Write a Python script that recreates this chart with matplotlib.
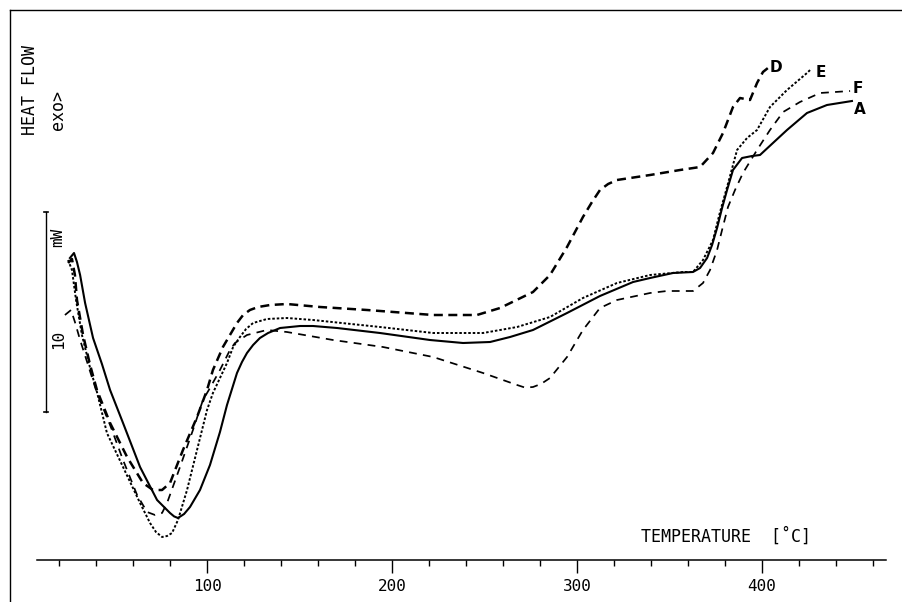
import matplotlib
matplotlib.use("Agg")
import matplotlib.pyplot as plt
from matplotlib.lines import Line2D

# ---- data (temperature in deg C, heat flow in mW, arbitrary zero) ----
A_T = [25.9, 28.1, 29.7, 31.4, 34.1, 38.4, 43.2, 47.6, 54.6, 63.8, 73.0, 80.0, 82.2,
       84.3, 87.6, 90.8, 96.2, 101.6, 107.0, 110.8, 116.2, 118.9, 121.6, 124.9, 128.6,
       133.0, 139.5, 150.3, 157.3, 170.3, 193.5, 220.5, 238.4, 253.0, 263.8, 276.2,
       294.6, 312.4, 330.3, 339.5, 351.9, 362.7, 366.5, 370.3, 373.0, 375.7, 378.4,
       381.1, 384.3, 389.2, 394.6, 398.9, 405.9, 413.5, 424.3, 435.1, 448.6]
A_HF = [15.1, 15.35, 14.9, 14.25, 12.85, 11.1, 9.8, 8.5, 6.85, 4.65, 3.0, 2.35, 2.18,
        2.1, 2.3, 2.65, 3.5, 4.75, 6.4, 7.75, 9.35, 9.9, 10.35, 10.75, 11.1,
        11.35, 11.6, 11.7, 11.7, 11.6, 11.35, 11.0, 10.85, 10.9, 11.15, 11.5,
        12.35, 13.2, 13.9, 14.1, 14.35, 14.4, 14.6, 15.1, 15.75, 16.6, 17.6,
        18.5, 19.5, 20.1, 20.2, 20.25, 20.85, 21.5, 22.35, 22.75, 22.95]

D_T = [24.9, 27.0, 28.6, 29.7, 33.0, 36.8, 40.5, 47.6, 56.8, 65.4, 70.8, 75.7, 80.0,
       87.0, 94.6, 100.0, 103.2, 108.6, 116.2, 119.5, 123.2, 127.6, 134.1, 143.2, 161.1,
       186.5, 222.2, 245.9, 258.4, 276.2, 285.4, 294.6, 303.2, 308.1, 312.4, 316.8,
       321.6, 339.5, 355.7, 366.5, 373.5, 378.9, 384.3, 388.1, 393.5, 397.3, 400.5, 403.2]
D_HF = [14.85, 15.05, 14.25, 13.0, 11.25, 9.75, 8.5, 6.85, 5.15, 3.85, 3.5, 3.5, 3.85,
        5.5, 7.15, 8.5, 9.5, 10.65, 11.85, 12.25, 12.5, 12.65, 12.75, 12.8, 12.65,
        12.5, 12.25, 12.25, 12.6, 13.4, 14.25, 15.65, 17.15, 17.9, 18.5, 18.8,
        19.0, 19.25, 19.5, 19.65, 20.35, 21.35, 22.65, 23.1, 23.0, 23.85, 24.4, 24.6]

E_T = [24.9, 27.0, 29.2, 32.4, 36.8, 40.5, 45.9, 54.6, 63.8, 69.2, 72.4, 75.7, 78.4,
       81.1, 84.3, 89.2, 94.6, 100.0, 103.2, 110.8, 114.1, 117.8, 121.1, 124.9, 132.4,
       143.2, 157.3, 193.5, 222.2, 249.2, 267.6, 285.4, 303.2, 321.6, 339.5, 357.3,
       362.7, 368.1, 373.5, 377.3, 381.1, 386.5, 391.9, 397.3, 404.3, 413.5, 424.3, 426.0]
E_HF = [15.0, 14.5, 13.0, 11.25, 9.6, 8.4, 6.35, 4.65, 2.85, 1.85, 1.4, 1.15, 1.2,
        1.35, 2.0, 3.5, 5.5, 7.5, 8.35, 9.85, 10.65, 11.15, 11.55, 11.85, 12.05,
        12.1, 12.0, 11.65, 11.35, 11.35, 11.65, 12.15, 13.1, 13.85, 14.25, 14.4,
        14.4, 15.0, 16.0, 17.4, 18.65, 20.5, 21.1, 21.5, 22.65, 23.5, 24.35, 24.5]

F_T = [23.2, 26.5, 28.6, 31.4, 35.7, 40.5, 47.6, 54.6, 62.2, 67.6, 71.9, 75.7, 78.4,
       85.4, 92.4, 97.8, 101.6, 107.0, 112.4, 115.1, 121.6, 132.4, 143.2, 168.1, 195.1,
       222.2, 249.2, 267.6, 271.9, 276.2, 280.5, 285.4, 294.6, 303.2, 312.4, 321.6,
       339.5, 348.6, 362.7, 368.1, 371.9, 375.7, 378.4, 381.6, 385.4, 389.7, 397.3,
       404.3, 411.4, 420.5, 431.4, 447.6]
F_HF = [12.25, 12.5, 11.9, 11.0, 9.75, 8.35, 6.75, 5.0, 3.25, 2.4, 2.25, 2.35, 2.85,
        4.65, 6.5, 8.0, 8.6, 9.5, 10.5, 10.85, 11.25, 11.5, 11.4, 11.0, 10.65,
        10.15, 9.35, 8.75, 8.62, 8.65, 8.8, 9.1, 10.15, 11.5, 12.6, 13.0,
        13.35, 13.45, 13.45, 13.85, 14.5, 15.5, 16.5, 17.65, 18.5, 19.35, 20.5,
        21.5, 22.4, 22.9, 23.35, 23.45]

curve_labels = ["D", "E", "F", "A"]
x_ticks_major = [100, 200, 300, 400]
x_ticks_minor = list(range(20, 461, 20))
scale_bar_mW = 10
scale_bar_bottom = 7.4
x_label = "TEMPERATURE  [\u02daC]"

# ---- figure ----
fig = plt.figure(figsize=(9.03, 6.02), dpi=100)
ax = fig.add_axes([0, 0, 1, 1])
ax.set_xlim(-11.9, 476.2)
ax.set_ylim(-2.1, 28.0)
for s in ["top", "right", "left"]:
    ax.spines[s].set_visible(False)
ax.spines["bottom"].set_position(("data", 0))
ax.spines["bottom"].set_bounds(8, 467)
ax.spines["bottom"].set_linewidth(1.1)
ax.yaxis.set_visible(False)

ax.set_xticks(x_ticks_major)
ax.set_xticks([t for t in x_ticks_minor if t not in x_ticks_major], minor=True)
ax.tick_params(axis="x", which="major", direction="out", length=9, width=1.0,
               pad=5, labelsize=11.5)
ax.tick_params(axis="x", which="minor", direction="out", length=4, width=1.0)
for lab in ax.get_xticklabels():
    lab.set_family("DejaVu Sans Mono")

col = "black"
ax.plot(A_T, A_HF, color=col, lw=1.5, solid_joinstyle="round")
ax.plot(D_T, D_HF, color=col, lw=1.8, dashes=(3.6, 2.2))
ax.plot(E_T, E_HF, color=col, lw=1.4, dashes=(1.3, 1.0))
ax.plot(F_T, F_HF, color=col, lw=1.25, dashes=(4.5, 3.6))

# curve labels
ends = {"D": (D_T[-1], D_HF[-1]), "E": (E_T[-1], E_HF[-1]),
        "F": (F_T[-1], F_HF[-1]), "A": (A_T[-1], A_HF[-1])}
offs = {"D": (0.8, 0.0), "E": (2.8, -0.1), "F": (1.6, 0.15), "A": (1.0, -0.4)}
for lab in curve_labels:
    x, y = ends[lab]
    dx, dy = offs[lab]
    ax.text(x + dx, y + dy, lab, fontsize=11, fontweight="bold",
            family="DejaVu Sans", ha="left", va="center")

# scale bar
ax.plot([13.0, 13.0], [scale_bar_bottom, scale_bar_bottom + scale_bar_mW],
        color=col, lw=1.0)
for yy in [scale_bar_bottom, scale_bar_bottom + scale_bar_mW]:
    ax.plot([12.0, 14.0], [yy, yy], color=col, lw=1.2)
ax.text(19.5, scale_bar_bottom + 8.75, "mW", rotation=90, fontsize=11.5,
        family="DejaVu Sans Mono", ha="center", va="center")
ax.text(19.5, scale_bar_bottom + 3.65, "10", rotation=90, fontsize=11.5,
        family="DejaVu Sans Mono", ha="center", va="center")

# axis titles
ax.text(4.5, 23.5, "HEAT FLOW", rotation=90, fontsize=12,
        family="DejaVu Sans Mono", ha="center", va="center")
ax.text(19.5, 22.5, "exo>", rotation=90, fontsize=12,
        family="DejaVu Sans Mono", ha="center", va="center")
ax.text(380.5, 1.15, x_label, fontsize=12, family="DejaVu Sans Mono",
        ha="center", va="center")

# frame lines (left and top border of the scanned figure)
fig.add_artist(Line2D([10 / 903, 10 / 903], [0, 1 - 10 / 602],
                      transform=fig.transFigure, color=col, lw=1.0))
fig.add_artist(Line2D([10 / 903, 1], [1 - 10 / 602, 1 - 10 / 602],
                      transform=fig.transFigure, color=col, lw=1.0))

fig.savefig("out.png", dpi=100, facecolor="white")
